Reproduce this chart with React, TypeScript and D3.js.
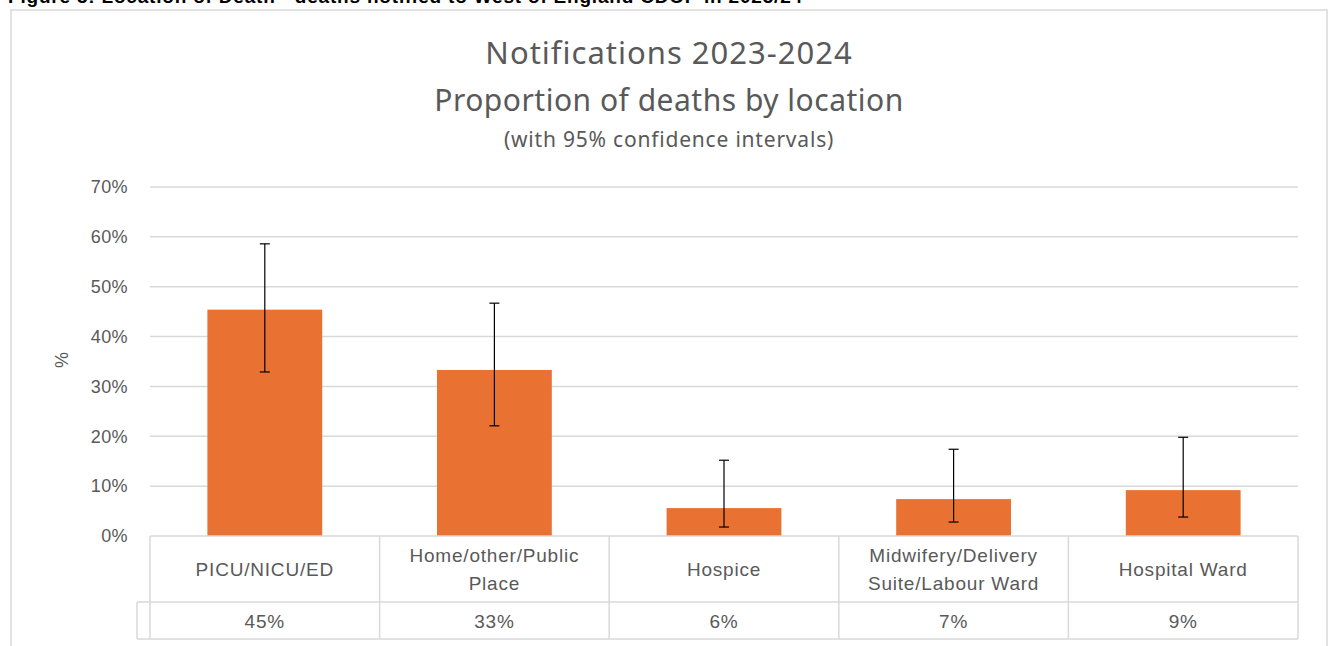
import React, { useRef, useEffect } from 'react'
import * as d3 from 'd3'

const categories = ['PICU/NICU/ED', 'Home/other/Public Place', 'Hospice', 'Midwifery/Delivery Suite/Labour Ward', 'Hospital Ward']
const proportions = [0.454, 0.333, 0.056, 0.074, 0.092]
const ciLower = [0.329, 0.221, 0.018, 0.028, 0.038]
const ciUpper = [0.586, 0.467, 0.152, 0.174, 0.198]
const tableLabels = ['45%', '33%', '6%', '7%', '9%']
const yTicks = [0, 0.1, 0.2, 0.3, 0.4, 0.5, 0.6, 0.7]

const App = () => {
    const ref = useRef<SVGSVGElement>(null)
    useEffect(() => {
        const w = 1330
        const h = 646
        const svg = d3.select(ref.current)
            .attr('width', w)
            .attr('height', h)
            .style('background', 'white')
        svg.selectAll('*').remove()

        const grey = '#595959'
        const line = '#d9d9d9'
        const font = 'Liberation Sans, Arial, sans-serif'

        // caption above the chart (clipped at the top of the page)
        svg.append('text')
            .attr('x', 8)
            .attr('y', 3)
            .style('font-family', font)
            .style('font-weight', 'bold')
            .style('font-size', '19px')
            .style('letter-spacing', '0.8px')
            .style('fill', '#000')
            .text('Figure 3: Location of Death - deaths notified to West of England CDOP in 2023/24')

        // chart border
        svg.append('rect')
            .attr('x', 11)
            .attr('y', 10)
            .attr('width', 1316)
            .attr('height', 700)
            .attr('fill', 'none')
            .attr('stroke', line)
            .attr('stroke-width', 1.5)

        // titles
        const titles = [
            { t: 'Notifications 2023-2024', y: 64, s: 31, ls: 1 },
            { t: 'Proportion of deaths by location', y: 111, s: 30, ls: 0.5 },
            { t: '(with 95% confidence intervals)', y: 147, s: 21, ls: 0.8 },
        ]
        svg.selectAll('.title')
            .data(titles)
            .join('text')
            .attr('class', 'title')
            .attr('x', 669)
            .attr('y', d => d.y)
            .attr('text-anchor', 'middle')
            .style('font-family', 'Noto Sans, sans-serif')
            .style('font-size', d => d.s + 'px')
            .style('letter-spacing', d => d.ls + 'px')
            .style('fill', grey)
            .text(d => d.t)

        const x = d3.scaleBand()
            .domain(categories)
            .range([150, 1298])
        const y = d3.scaleLinear()
            .domain([0, 0.7])
            .range([536, 187])

        // grid lines
        svg.append('g')
            .selectAll('line')
            .data(yTicks.slice(1))
            .join('line')
            .attr('x1', 150)
            .attr('x2', 1298)
            .attr('y1', d => y(d))
            .attr('y2', d => y(d))
            .style('stroke', line)
            .style('stroke-width', 1.5)

        // y axis
        const yAxis = d3.axisLeft(y)
            .tickValues(yTicks)
            .tickFormat(d3.format('.0%'))
            .tickSize(0)
            .tickPadding(22)
        const gy = svg.append('g')
            .attr('transform', 'translate(150,0)')
            .call(yAxis)
        gy.select('.domain').remove()
        gy.selectAll('text')
            .style('font-family', font)
            .style('font-size', '18px')
            .style('letter-spacing', '0.4px')
            .style('fill', grey)

        svg.append('text')
            .attr('transform', 'translate(68,360) rotate(-90)')
            .attr('text-anchor', 'middle')
            .style('font-family', font)
            .style('font-size', '18px')
            .style('fill', grey)
            .text('%')

        // bars
        const bw = x.bandwidth() * 0.5
        svg.append('g')
            .selectAll('rect')
            .data(categories)
            .join('rect')
            .attr('x', d => x(d)! + (x.bandwidth() - bw) / 2)
            .attr('width', bw)
            .attr('y', (d, i) => y(proportions[i]))
            .attr('height', (d, i) => y(0) - y(proportions[i]))
            .attr('fill', '#E97132')

        // error bars
        const eb = svg.append('g')
            .style('stroke', '#000')
            .style('stroke-width', 1.2)
        categories.forEach((c, i) => {
            const cx = x(c)! + x.bandwidth() / 2
            eb.append('line')
                .attr('x1', cx).attr('x2', cx)
                .attr('y1', y(ciUpper[i])).attr('y2', y(ciLower[i]))
            ;[ciUpper[i], ciLower[i]].forEach(v => {
                eb.append('line')
                    .attr('x1', cx - 5).attr('x2', cx + 5)
                    .attr('y1', y(v)).attr('y2', y(v))
            })
        })

        // data table
        const rowTop = 536
        const rowMid = 602
        const rowBot = 639
        const tbl = svg.append('g')
            .style('stroke', line)
            .style('stroke-width', 1.5)
            .style('fill', 'none')
        tbl.append('line').attr('x1', 150).attr('x2', 1298).attr('y1', rowTop).attr('y2', rowTop)
        tbl.append('line').attr('x1', 137).attr('x2', 1298).attr('y1', rowMid).attr('y2', rowMid)
        tbl.append('line').attr('x1', 137).attr('x2', 1298).attr('y1', rowBot).attr('y2', rowBot)
        tbl.append('line').attr('x1', 137).attr('x2', 137).attr('y1', rowMid).attr('y2', rowBot)
        const edges = categories.map(c => x(c)!).concat([1298])
        tbl.selectAll('.vline')
            .data(edges)
            .join('line')
            .attr('class', 'vline')
            .attr('x1', d => d).attr('x2', d => d)
            .attr('y1', rowTop).attr('y2', rowBot)

        const wrap = (s: string, maxW: number, node: d3.Selection<SVGTextElement, unknown, null, undefined>) => {
            const words = s.split(' ')
            const lines: string[] = []
            let cur = ''
            words.forEach(wd => {
                const test = cur ? cur + ' ' + wd : wd
                node.text(test)
                if ((node.node() as SVGTextElement).getComputedTextLength() > maxW && cur) {
                    lines.push(cur)
                    cur = wd
                } else {
                    cur = test
                }
            })
            lines.push(cur)
            node.text(null)
            return lines
        }

        categories.forEach((c, i) => {
            const cx = x(c)! + x.bandwidth() / 2
            const t = svg.append('text')
                .attr('text-anchor', 'middle')
                .style('font-family', font)
                .style('font-size', '19px')
                .style('letter-spacing', '0.8px')
                .style('fill', grey)
            const lines = wrap(c, 200, t)
            const lh = 28
            const y0 = (rowTop + rowMid) / 2 + 7 - (lines.length - 1) * lh / 2
            lines.forEach((l, k) => {
                t.append('tspan').attr('x', cx).attr('y', y0 + k * lh).text(l)
            })
            svg.append('text')
                .attr('x', cx)
                .attr('y', (rowMid + rowBot) / 2 + 7)
                .attr('text-anchor', 'middle')
                .style('font-family', font)
                .style('font-size', '19px')
                .style('letter-spacing', '0.8px')
                .style('fill', grey)
                .text(tableLabels[i])
        })
    }, [])
    return (
        <div style={{ position: 'absolute', left: 0, top: 0 }}>
            <svg ref={ref} style={{ display: 'block' }}></svg>
        </div>
    )
}

export default App
